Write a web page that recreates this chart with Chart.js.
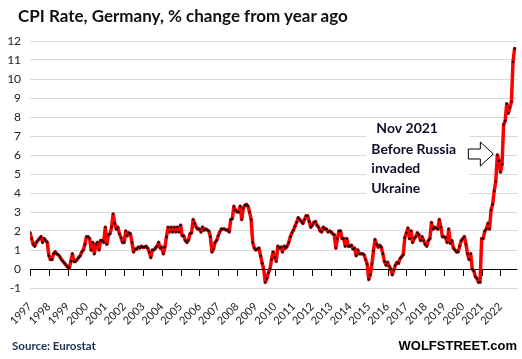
<!DOCTYPE html>
<html>
<head>
<meta charset="utf-8">
<script src="https://cdn.jsdelivr.net/npm/chart.js@4.4.1/dist/chart.umd.min.js"></script>
<style>
body { margin: 0; background: #fff; }
#wrap { position: relative; width: 522px; height: 359px; overflow: hidden; font-family: Lato, sans-serif; }
#chart { position: absolute; left: 0; top: 0; }
#title { position: absolute; left: 18px; top: 5px; font-size: 17px; font-weight: bold; color: #111; white-space: nowrap; }
#source { position: absolute; left: 12px; top: 339px; font-size: 11.5px; font-weight: bold; color: #1f3050; white-space: nowrap; }
#brand { position: absolute; right: 5px; top: 338px; font: bold 13px 'Liberation Sans', Arial, sans-serif; color: #000; white-space: nowrap; }
</style>
</head>
<body>
<div id="wrap">
  <canvas id="chart" width="522" height="359"></canvas>
  <div id="title">CPI Rate, Germany, % change from year ago</div>
  <div id="source">Source: Eurostat</div>
  <div id="brand">WOLFSTREET.com</div>
</div>
<script>
// monthly, Jan 1997 .. Oct 2022, % change from year ago
const startYear = 1997
const cpi = [
    1.9, 1.6, 1.3, 1.2, 1.4, 1.5, 1.6, 1.7, 1.4, 1.6, 1.5, 1.4,       // 1997
    0.7, 0.5, 0.5, 0.8, 0.9, 0.8, 0.75, 0.65, 0.5, 0.4, 0.3, 0.2,     // 1998
    0.1, 0.05, 0.4, 0.8, 0.4, 0.4, 0.5, 0.6, 0.7, 0.9, 1.0, 1.3,      // 1999
    1.7, 1.7, 1.6, 1.0, 1.4, 0.8, 1.3, 1.4, 1.0, 1.5, 1.5, 1.4,       // 2000
    2.2, 1.3, 1.8, 1.85, 2.2, 2.9, 2.4, 2.1, 2.2, 1.85, 1.65, 1.4,    // 2001
    1.4, 2.0, 1.75, 1.9, 1.85, 1.4, 0.9, 1.05, 1.05, 1.15, 1.1, 1.2,  // 2002
    1.15, 1.15, 1.2, 1.1, 0.9, 0.6, 1.0, 1.0, 1.1, 1.2, 1.4, 1.1,     // 2003
    1.15, 0.8, 1.15, 1.7, 2.2, 1.95, 2.2, 1.95, 2.2, 1.95, 2.2, 1.95, // 2004
    2.3, 1.75, 1.75, 1.5, 1.4, 1.5, 1.85, 1.9, 2.6, 2.4, 2.2, 2.1,    // 2005
    2.1, 1.95, 2.2, 2.05, 2.1, 2.05, 2.0, 1.7, 0.9, 1.05, 1.4, 1.5,   // 2006
    1.75, 1.95, 2.1, 2.1, 2.1, 2.05, 2.05, 1.95, 2.6, 2.65, 3.3, 3.1, // 2007
    3.0, 3.0, 3.3, 2.6, 3.2, 3.35, 3.4, 3.3, 3.0, 2.6, 1.4, 1.1,      // 2008
    1.0, 1.05, 1.1, 0.7, 0.3, 0.0, -0.7, -0.5, -0.2, 0.0, 0.5, 0.9,   // 2009
    0.6, 0.4, 1.2, 1.1, 1.15, 0.9, 1.2, 1.1, 1.2, 1.4, 1.7, 1.9,      // 2010
    2.05, 2.25, 2.45, 2.7, 2.6, 2.5, 2.4, 2.6, 2.8, 2.8, 2.5, 2.2,    // 2011
    2.3, 2.45, 2.5, 2.3, 2.2, 2.0, 1.95, 2.2, 2.1, 2.1, 1.95, 2.0,    // 2012
    1.95, 1.85, 1.8, 1.1, 1.6, 2.0, 2.0, 1.6, 1.6, 1.2, 1.6, 1.2,     // 2013
    1.2, 1.25, 1.05, 1.1, 0.7, 1.0, 0.8, 0.8, 0.8, 0.75, 0.5, 0.25,   // 2014
    -0.55, -0.3, 0.25, 0.95, 1.55, 1.3, 1.15, 1.25, 1.15, 0.8, 0.4, 0.2, // 2015
    0.35, 0.15, 0.0, -0.3, -0.05, 0.2, 0.35, 0.3, 0.55, 0.65, 0.75, 1.65, // 2016
    1.9, 2.15, 1.6, 2.0, 1.4, 1.6, 1.7, 1.9, 1.8, 1.5, 1.7, 1.5,      // 2017
    1.3, 1.2, 1.5, 1.6, 2.45, 2.1, 2.2, 2.15, 2.1, 2.6, 2.2, 1.7,     // 2018
    1.7, 1.65, 1.4, 2.1, 1.35, 1.5, 1.1, 1.0, 0.9, 0.9, 1.2, 1.5,     // 2019
    1.6, 1.7, 1.3, 0.8, 0.5, 0.8, 0.0, -0.1, -0.4, -0.5, -0.7, -0.7,  // 2020
    1.6, 1.6, 2.0, 2.1, 2.4, 2.1, 3.1, 3.4, 4.1, 4.6, 6.0, 5.7,       // 2021
    5.1, 5.5, 7.6, 7.8, 8.7, 8.2, 8.5, 8.8, 10.9, 11.6                // 2022
]
const yMin = -1
const yMax = 12
const xMax = 2022.9

// callout at Nov 2021
const noteIndex = (2021 - startYear) * 12 + 10
const noteLines = ['Nov 2021', 'Before Russia', 'invaded', 'Ukraine']

const points = cpi.map((v, i) => ({ x: startYear + i / 12, y: v }))

const decorations = {
    id: 'decorations',
    beforeDatasetsDraw(chart) {
        const { ctx, scales: { x, y } } = chart
        const y0 = y.getPixelForValue(0)

        ctx.save()
        // year tick marks hanging from the zero line
        ctx.strokeStyle = '#000'
        ctx.lineWidth = 1
        ctx.beginPath()
        x.ticks.forEach(t => {
            const tx = Math.round(x.getPixelForValue(t.value)) + 0.5
            ctx.moveTo(tx, y0)
            ctx.lineTo(tx, y0 + 7)
        })
        ctx.stroke()

        // callout box, arrow and text
        const px = x.getPixelForValue(points[noteIndex].x)
        const py = y.getPixelForValue(points[noteIndex].y)
        ctx.fillStyle = '#fff'
        ctx.fillRect(px - 131, py - 37, 103, 80)

        const tx = px - 4, ty = py - 1
        ctx.beginPath()
        ctx.moveTo(tx, ty)
        ctx.lineTo(tx - 13, ty - 12)
        ctx.lineTo(tx - 13, ty - 5)
        ctx.lineTo(tx - 25, ty - 5)
        ctx.lineTo(tx - 25, ty + 5)
        ctx.lineTo(tx - 13, ty + 5)
        ctx.lineTo(tx - 13, ty + 12)
        ctx.closePath()
        ctx.fillStyle = '#fff'
        ctx.fill()
        ctx.strokeStyle = '#000'
        ctx.stroke()

        ctx.fillStyle = '#10102a'
        ctx.font = 'bold 14px Lato'
        ctx.textBaseline = 'alphabetic'
        const offs = [-22, -1, 18, 38]
        noteLines.forEach((line, i) => {
            ctx.fillText(line, px - 126 + (i == 0 ? 5 : 0), py + offs[i])
        })
        ctx.restore()
    }
}

new Chart(document.getElementById('chart'), {
    type: 'line',
    data: {
        datasets: [{
            data: points,
            borderColor: '#ff0000',
            borderWidth: 3.5,
            borderJoinStyle: 'round',
            borderCapStyle: 'round',
            pointRadius: 1,
            pointBackgroundColor: '#111',
            pointBorderColor: '#111',
            pointBorderWidth: 0.6,
            tension: 0
        }]
    },
    options: {
        responsive: false,
        animation: false,
        devicePixelRatio: 1,
        layout: { padding: { top: 41, right: 4, left: 0, bottom: 0 } },
        plugins: {
            legend: { display: false },
            tooltip: { enabled: false }
        },
        scales: {
            x: {
                type: 'linear',
                min: startYear,
                max: xMax,
                grid: { display: false, drawTicks: false },
                border: { display: false },
                ticks: {
                    stepSize: 1,
                    maxTicksLimit: 30,
                    includeBounds: false,
                    autoSkip: false,
                    minRotation: 45,
                    maxRotation: 45,
                    padding: 12,
                    color: '#222',
                    font: { family: 'Lato', size: 11 },
                    callback: v => String(v)
                },
                afterFit: s => { s.height = 71 }
            },
            y: {
                min: yMin,
                max: yMax,
                grid: {
                    color: c => c.tick.value === 0 ? '#000' : '#d9d9d9',
                    drawTicks: false
                },
                border: { display: false },
                ticks: {
                    stepSize: 1,
                    padding: 9,
                    color: '#222',
                    font: { family: 'Lato', size: 12 }
                },
                afterFit: s => { s.width = 26 }
            }
        }
    },
    plugins: [decorations]
})
</script>
</body>
</html>
